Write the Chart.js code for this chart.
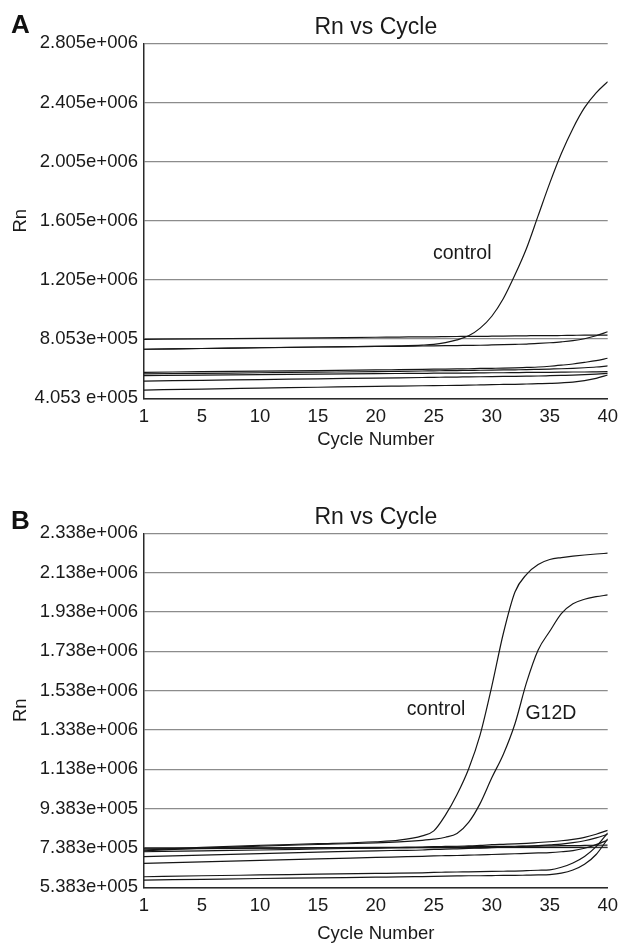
<!DOCTYPE html>
<html>
<head>
<meta charset="utf-8">
<script src="https://cdn.jsdelivr.net/npm/chart.js@4.4.1/dist/chart.umd.min.js"></script>
<style>
html,body{margin:0;padding:0;background:#fff;}
body{width:626px;height:943px;position:relative;overflow:hidden;font-family:"Liberation Sans",Arial,sans-serif;}
.panel{position:absolute;left:0;width:626px;}
.panel canvas{display:block;}
.letter{position:absolute;font-weight:bold;font-size:26px;color:#111;line-height:1;font-family:"Liberation Sans",Arial,sans-serif;}
</style>
</head>
<body>
<div class="panel" style="top:0px;height:453px"><canvas id="chartA" width="626" height="453" style="width:626px;height:453px"></canvas></div>
<div class="panel" style="top:490px;height:456px"><canvas id="chartB" width="626" height="456" style="width:626px;height:456px"></canvas></div>
<div class="letter" style="left:11px;top:11px">A</div>
<div class="letter" style="left:11px;top:507px">B</div>
<script>
// ---------- shared x axis (cycle positions; the axis origin is labelled "1") ----------
const cyclePositions = [0,5,10,15,20,22,24,25,26,27,28,29,30,31,32,33,34,35,36,37,38,39,40];
const xTickValues = [0,5,10,15,20,25,30,35,40];
const xTickLabels = ["1","5","10","15","20","25","30","35","40"];

// ---------- Panel A ----------
const aTickValues = [405300,805300,1205300,1605300,2005300,2405300,2805300];
const aTickLabels = ["4.053 e+005","8.053e+005","1.205e+006","1.605e+006","2.005e+006","2.405e+006","2.805e+006"];
const aControl = [737000,742000,747000,752000,757000,760000,765000,770000,782000,800000,828000,880000,960000,1080000,1240000,1420000,1640000,1860000,2060000,2230000,2370000,2470000,2546000];
const aRise1   = [737000,742000,747000,752000,756000,757000,759000,760000,761000,762000,763000,764000,766000,768000,770000,772000,776000,781000,787000,795000,808000,828000,855000];
const aFlat1   = [804000,807000,811000,814000,818000,819000,821000,821000,822000,823000,824000,824000,825000,826000,827000,828000,829000,829000,830000,831000,832000,832000,833000];
const aLow1    = [581000,585000,589000,593000,597000,599000,601000,602000,603000,604000,605000,607000,608000,609000,611000,614000,617000,622000,629000,637000,648000,660000,676000];
const aLow2    = [570000,574000,578000,582000,586000,588000,590000,591000,592000,593000,594000,595000,596000,597000,598000,599000,601000,603000,605000,608000,612000,617000,624000];
const aLow3    = [558000,562000,565000,569000,572000,573000,574000,575000,575000,576000,576000,577000,578000,578000,579000,580000,580000,581000,582000,583000,583000,584000,585000];
const aLow4    = [522000,527000,532000,537000,542000,544000,546000,547000,548000,549000,550000,551000,552000,553000,554000,555000,556000,558000,560000,562000,565000,569000,574000];
const aLow5    = [461000,468000,474000,480000,486000,488000,490000,491000,492000,493000,494000,496000,498000,499000,500000,502000,504000,506000,510000,515000,525000,540000,563000];

// ---------- Panel B ----------
const bTickValues = [538300,738300,938300,1138300,1338300,1538300,1738300,1938300,2138300,2338300];
const bTickLabels = ["5.383e+005","7.383e+005","9.383e+005","1.138e+006","1.338e+006","1.538e+006","1.738e+006","1.938e+006","2.138e+006","2.338e+006"];
const bControl = [728000,742000,752000,760000,770000,778000,800000,825000,905000,1010000,1140000,1315000,1560000,1830000,2040000,2130000,2180000,2205000,2215000,2222000,2228000,2233000,2237000];
const bG12D    = [724000,738000,748000,756000,764000,769000,777000,783000,793000,812000,868000,965000,1095000,1215000,1370000,1580000,1745000,1840000,1930000,1980000,2003000,2016000,2025000];
const bFlat1   = [737000,738000,738000,739000,739000,740000,740000,740000,740000,740000,740000,740000,741000,741000,741000,741000,741000,741000,741000,741000,742000,742000,742000];
const bFlat2   = [733000,735000,737000,739000,741000,742000,743000,743000,744000,744000,745000,745000,746000,746000,747000,748000,748000,749000,750000,750000,751000,752000,753000];
const bMid1    = [719000,724000,728000,733000,738000,740000,742000,745000,746000,747000,749000,751000,755000,757000,759000,762000,766000,770000,775000,782000,792000,808000,828000];
const bMid2    = [694000,702000,710000,717000,724000,726000,728000,731000,732000,734000,736000,738000,740000,742000,744000,747000,750000,754000,758000,765000,775000,790000,808000];
const bMid3    = [660000,668000,675000,683000,690000,693000,696000,698000,699000,700000,702000,703000,705000,707000,709000,711000,713000,715000,719000,725000,737000,755000,779000];
const bLow1    = [592000,597000,601000,605000,609000,610000,612000,614000,615000,616000,617000,618000,619000,620000,621000,623000,625000,627000,640000,662000,695000,745000,815000];
const bLow2    = [575000,579000,583000,586000,590000,591000,593000,594000,595000,596000,597000,597000,598000,599000,599000,600000,601000,603000,610000,626000,655000,705000,785000];

const FONT = '"Liberation Sans", Arial, Helvetica, sans-serif';
const TEXT = '#1a1a1a';

const curveLabelPlugin = {
  id: 'curveLabels',
  afterDatasetsDraw(chart, args, opts) {
    const ctx = chart.ctx;
    ctx.save();
    ctx.font = '19.5px ' + FONT;
    ctx.fillStyle = TEXT;
    ctx.textAlign = 'center';
    ctx.textBaseline = 'middle';
    (opts.items || []).forEach(it => {
      ctx.fillText(it.text, chart.scales.x.getPixelForValue(it.x), chart.scales.y.getPixelForValue(it.y));
    });
    ctx.restore();
  }
};

function makeChart(id, series, tickValues, tickLabels, labels, xAxisHeight, xTitlePadBottom, bottomPad) {
  return new Chart(document.getElementById(id), {
    type: 'line',
    data: {
      datasets: series.map(vals => ({
        data: cyclePositions.map((c, i) => ({x: c, y: vals[i]})),
        borderColor: '#161616',
        borderWidth: 1.2,
        pointRadius: 0,
        fill: false,
        cubicInterpolationMode: 'monotone'
      }))
    },
    options: {
      responsive: false,
      animation: false,
      layout: {padding: {left: 0, right: 13.3, top: 0, bottom: bottomPad}},
      plugins: {
        legend: {display: false},
        tooltip: {enabled: false},
        title: {
          display: true, text: 'Rn vs Cycle', fullSize: false, color: TEXT,
          font: {family: FONT, size: 23, weight: 'normal'},
          padding: {top: 14, bottom: 1.7}
        },
        curveLabels: {items: labels}
      },
      scales: {
        x: {
          type: 'linear', min: 0, max: 40,
          afterBuildTicks: sc => { sc.ticks = xTickValues.map(v => ({value: v})); },
          afterFit: sc => { sc.height = xAxisHeight; },
          ticks: {
            callback: v => xTickLabels[xTickValues.indexOf(v)],
            font: {family: FONT, size: 18.5}, color: TEXT, padding: 8,
            maxRotation: 0, autoSkip: false
          },
          grid: {display: false, drawTicks: false},
          border: {display: true, color: '#2a2a2a', width: 1.5},
          title: {display: true, text: 'Cycle Number', color: TEXT,
                  font: {family: FONT, size: 18.5}, padding: {top: 0, bottom: xTitlePadBottom}}
        },
        y: {
          type: 'linear', min: tickValues[0], max: tickValues[tickValues.length - 1],
          afterBuildTicks: sc => { sc.ticks = tickValues.map(v => ({value: v})); },
          afterFit: sc => { sc.width = 144; },
          ticks: {
            callback: v => tickLabels[tickValues.indexOf(v)],
            font: {family: FONT, size: 18.5}, color: TEXT, padding: 6, autoSkip: false
          },
          grid: {color: '#8c8c8c', lineWidth: 1.3, drawTicks: false},
          border: {display: true, color: '#2a2a2a', width: 1.5},
          title: {display: true, text: 'Rn', color: TEXT,
                  font: {family: FONT, size: 18.5}, padding: {top: 10, bottom: 0}}
        }
      }
    },
    plugins: [curveLabelPlugin]
  });
}

makeChart('chartA',
  [aControl, aRise1, aFlat1, aLow1, aLow2, aLow3, aLow4, aLow5],
  aTickValues, aTickLabels,
  [{text: 'control', x: 27.45, y: 1385000}],
  54.7, 2.3, 0);

makeChart('chartB',
  [bControl, bG12D, bFlat1, bFlat2, bMid1, bMid2, bMid3, bLow1, bLow2],
  bTickValues, bTickLabels,
  [{text: 'control', x: 25.2, y: 1440000}, {text: 'G12D', x: 35.1, y: 1420000}],
  58, 0.4, 0.7);
</script>
</body>
</html>
